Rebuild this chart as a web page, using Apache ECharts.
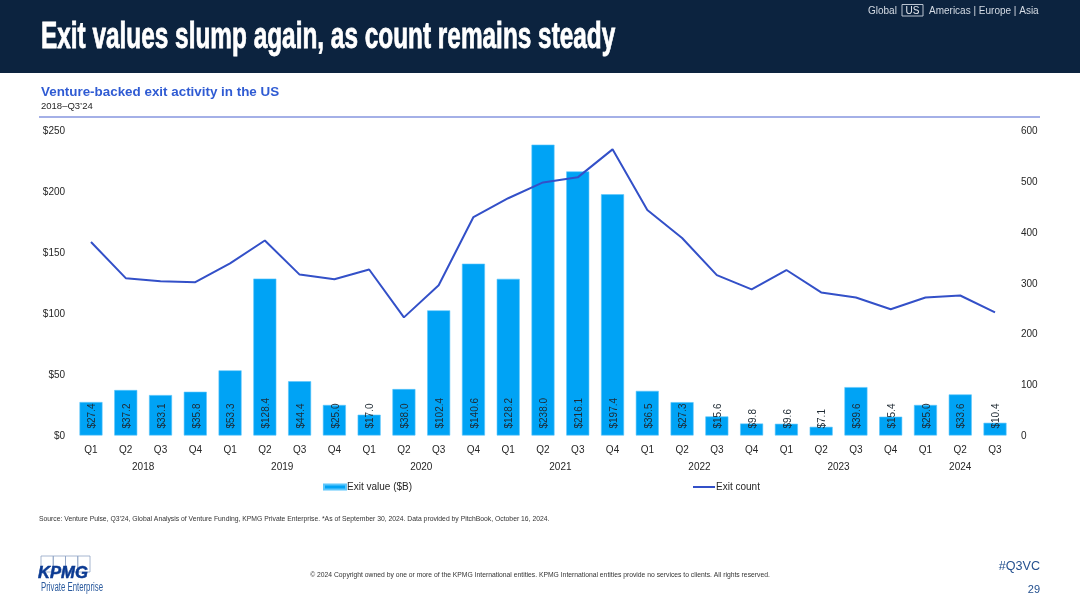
<!DOCTYPE html>
<html>
<head>
<meta charset="utf-8">
<style>
html,body{margin:0;padding:0;background:#fff;}
#chart{width:1080px;height:607px;}
</style>
<script src="https://cdn.jsdelivr.net/npm/echarts@6/dist/echarts.min.js"></script>
</head>
<body>
<div id="chart"></div>
<script>
var quarters = ['Q1','Q2','Q3','Q4','Q1','Q2','Q3','Q4','Q1','Q2','Q3','Q4','Q1','Q2','Q3','Q4','Q1','Q2','Q3','Q4','Q1','Q2','Q3','Q4','Q1','Q2','Q3'];
var exitValue = [27.4,37.2,33.1,35.8,53.3,128.4,44.4,25.0,17.0,38.0,102.4,140.6,128.2,238.0,216.1,197.4,36.5,27.3,15.6,9.8,9.6,7.1,39.6,15.4,25.0,33.6,10.4];
var exitCount = [380,309,303,301,338,383,316,307,326,232,295,429,466,497,507,562,443,388,315,287,325,281,271,248,271,275,242];
var years = ['2018','2019','2020','2021','2022','2023','2024'];
var yearCenters = [1.5,5.5,9.5,13.5,17.5,21.5,25];

var FONT = '"Liberation Sans", Arial, sans-serif';
var DARK = '#262626';

function txt(x, y, text, size, color, extra) {
    var style = { x: x, y: y, text: text, fill: color, font: (extra && extra.font) || (size + 'px ' + FONT),
        textAlign: (extra && extra.align) || 'left', textVerticalAlign: 'middle' };
    if (extra && extra.stroke) { style.stroke = extra.stroke; style.lineWidth = extra.lineWidth; }
    var el = { type: 'text', style: style, silent: true };
    if (extra && extra.scaleX) { el.x = x; el.y = y; style.x = 0; style.y = 0; el.scaleX = extra.scaleX; }
    return el;
}

var page = [
    { type: 'rect', shape: { x: 0, y: 0, width: 1080, height: 73 }, style: { fill: '#0c233f' }, silent: true },
    txt(41, 38.5, 'Exit values slump again, as count remains steady', 36, '#ffffff', { font: 'bold 36px ' + FONT, scaleX: 0.677, stroke: '#ffffff', lineWidth: 0.8 }),
    txt(868, 11.5, 'Global', 10, '#d5dbe4'),
    { type: 'rect', shape: { x: 902, y: 4.5, width: 21, height: 11.5 }, style: { fill: 'none', stroke: '#b9c3d0', lineWidth: 1 }, silent: true },
    txt(912.5, 11.5, 'US', 10, '#e6eaf0', { align: 'center' }),
    txt(929, 11.5, 'Americas | Europe | Asia', 10, '#d5dbe4'),
    txt(41, 92, 'Venture-backed exit activity in the US', 13.4, '#2f5bd3', { font: 'bold 13.4px ' + FONT }),
    txt(41, 106.5, '2018\u2013Q3\u201924', 9.5, DARK),
    { type: 'line', shape: { x1: 39, y1: 117, x2: 1040, y2: 117 }, style: { stroke: '#4a63cf', lineWidth: 1.2 }, silent: true },
    txt(39, 519, 'Source: Venture Pulse, Q3\u201924, Global Analysis of Venture Funding, KPMG Private Enterprise. *As of September 30, 2024. Data provided by PitchBook, October 16, 2024.', 6.8, '#333333'),
    txt(540, 575, '\u00a9 2024 Copyright owned by one or more of the KPMG International entities. KPMG International entities provide no services to clients. All rights reserved.', 6.77, '#333333', { align: 'center' }),
    txt(1040, 567, '#Q3VC', 12.6, '#24508f', { align: 'right' }),
    txt(1040, 590, '29', 11, '#24508f', { align: 'right' }),
    txt(38, 573.5, 'KPMG', 16, '#0b3a92', { font: 'italic bold 16px ' + FONT, scaleX: 1.04, stroke: '#0b3a92', lineWidth: 0.5 }),
    txt(41, 588, 'Private Enterprise', 12, '#2a5a9e', { scaleX: 0.65 })
];
[41, 53.25, 65.5, 77.75].forEach(function (x) {
    page.push({ type: 'rect', z: -1, shape: { x: x, y: 556, width: 12.25, height: 16 }, style: { fill: 'none', stroke: '#8fa3c4', lineWidth: 0.8 }, silent: true });
});

var option = {
    animation: false,
    backgroundColor: '#ffffff',
    textStyle: { fontFamily: FONT },
    graphic: page,
    grid: { left: 73.6, right: 67.6, top: 130, bottom: 171.5, containLabel: false },
    legend: [
        { data: ['Exit value ($B)'], left: 323, top: 482, itemWidth: 22, itemHeight: 5, icon: 'rect', padding: 0,
          textStyle: { fontSize: 10, color: DARK, padding: [0, 0, 0, -4] } },
        { data: ['Exit count'], left: 693, top: 482, itemWidth: 22, itemHeight: 2, icon: 'rect', padding: 0,
          textStyle: { fontSize: 10, color: DARK, padding: [0, 0, 0, -4] } }
    ],
    xAxis: [
        {
            type: 'category', data: quarters, position: 'bottom',
            axisLine: { show: false }, axisTick: { show: false },
            axisLabel: { interval: 0, margin: 10, fontSize: 10, color: DARK, fontFamily: FONT }
        },
        {
            type: 'value', min: -0.5, max: 26.5, position: 'bottom', offset: 27,
            splitLine: { show: false }, axisLine: { show: false }, axisTick: { show: false },
            axisLabel: {
                customValues: yearCenters, margin: 0, fontSize: 10, color: DARK, fontFamily: FONT,
                formatter: function (v) { return years[yearCenters.indexOf(v)]; }
            }
        }
    ],
    yAxis: [
        {
            type: 'value', min: 0, max: 250, interval: 50,
            splitLine: { show: false }, axisLine: { show: false }, axisTick: { show: false },
            axisLabel: { margin: 8.5, fontSize: 10, color: DARK, fontFamily: FONT, formatter: '${value}', verticalAlign: 'top', lineHeight: 2 }
        },
        {
            type: 'value', min: 0, max: 600, interval: 100, position: 'right',
            splitLine: { show: false }, axisLine: { show: false }, axisTick: { show: false },
            axisLabel: { margin: 8.5, fontSize: 10, color: DARK, fontFamily: FONT, verticalAlign: 'top', lineHeight: 2 }
        }
    ],
    series: [
        {
            name: 'Exit value ($B)', type: 'bar', xAxisIndex: 0, yAxisIndex: 0, data: exitValue, barWidth: 23,
            itemStyle: { color: '#00a3f5', borderColor: '#5cc6fb', borderWidth: 0.6 },
            label: {
                show: true, position: 'insideBottom', distance: 7, offset: [0, 1.5], rotate: 90, align: 'left', verticalAlign: 'middle',
                fontSize: 10, color: '#1f2a33', fontFamily: FONT,
                formatter: function (p) { return '$' + p.value.toFixed(1); }
            }
        },
        {
            name: 'Exit count', type: 'line', xAxisIndex: 0, yAxisIndex: 1, data: exitCount, symbol: 'none', z: 5,
            lineStyle: { color: '#3350c8', width: 2 }, itemStyle: { color: '#3350c8' }
        }
    ]
};

var myChart = echarts.init(document.getElementById('chart'), null, { renderer: 'canvas' });
myChart.setOption(option);
</script>
</body>
</html>
